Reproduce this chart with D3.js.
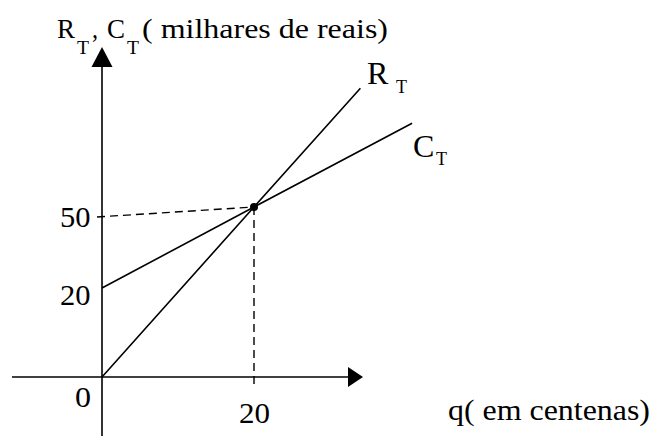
<!DOCTYPE html>
<html>
<head>
<meta charset="utf-8">
<script src="https://d3js.org/d3.v7.min.js"></script>
<style>
 body { margin: 0; background: #fff; }
 svg text { font-family: 'Liberation Serif', 'Times New Roman', Times, serif; fill: #000; }
 .line { fill: none; stroke: #000; stroke-width: 1.6; }
 .dash { fill: none; stroke: #000; stroke-width: 1.4; stroke-dasharray: 8,5; }
</style>
</head>
<body>
<script>
// schematic break-even chart (q in centenas, R/C in milhares de reais)
var revenue = [[0, 0], [20, 50], [34, 94]];
var cost = [[0, 20], [20, 50], [40.8, 81]];
var breakEven = [20, 50];
var yTicks = [50, 20];
var xTicks = [20];

var w = 669, h = 436;
var svg = d3.select("body").append("svg")
  .attr("width", w).attr("height", h);

// the drawing is not to scale, so the y scale is piecewise
var x = d3.scaleLinear().domain([0, 20]).range([102, 254]);
var y = d3.scaleLinear().domain([0, 20, 50]).range([377, 288, 207]);

var line = d3.line()
  .x(function(d) { return x(d[0]); })
  .y(function(d) { return y(d[1]); });

// axes with arrow heads
var x0 = x(0), y0 = y(0);
svg.append("line").attr("class", "line")
  .attr("x1", 12).attr("y1", y0).attr("x2", 350).attr("y2", y0);
svg.append("path")
  .attr("d", "M348," + (y0 - 10) + "L363," + y0 + "L348," + (y0 + 10) + "Z");
svg.append("line").attr("class", "line")
  .attr("x1", x0).attr("y1", 436).attr("x2", x0).attr("y2", 65);
svg.append("path")
  .attr("d", "M" + (x0 - 10.5) + ",67L" + x0 + ",47L" + (x0 + 10.5) + ",67Z");

// dashed guides to the break-even point
svg.append("line").attr("class", "dash")
  .attr("x1", x0 - 5).attr("y1", y(breakEven[1]) + 10)
  .attr("x2", x(breakEven[0])).attr("y2", y(breakEven[1]));
svg.append("line").attr("class", "dash")
  .attr("x1", x(breakEven[0])).attr("y1", y(breakEven[1]))
  .attr("x2", x(breakEven[0])).attr("y2", y0 + 8);

// R_T and C_T
svg.append("path").datum(revenue).attr("class", "line").attr("d", line);
svg.append("path").datum(cost).attr("class", "line").attr("d", line);
svg.append("circle")
  .attr("cx", x(breakEven[0])).attr("cy", y(breakEven[1])).attr("r", 4);

// text stretched horizontally like the original
function label(xp, yp, size, str, len) {
  var t = svg.append("text").attr("x", xp).attr("y", yp)
    .attr("font-size", size).text(str);
  if (len) t.attr("textLength", len).attr("lengthAdjust", "spacingAndGlyphs");
  return t;
}

// tick labels
var yOff = {50: 20, 20: 17};
yTicks.forEach(function(d) {
  label(x0 - 12 - 30, y(d) + yOff[d], 29, d, 30.5);
});
label(75, 407, 29, "0", 16);
xTicks.forEach(function(d) {
  label(x(d) - 15, 423, 30, d, 31);
});

// axis titles
label(57, 38, 27, "R", 18);
label(77, 54, 18, "T", 12);
label(92, 38, 27, ",", 6);
label(107, 38, 27, "C", 18);
label(127, 54, 18, "T", 12);
label(142, 38, 28, "( milhares de reais)", 246);

label(448, 420, 29, "q( em centenas)", 202);

// line labels
label(367, 84, 32, "R");
label(396, 93, 18, "T");
label(413, 157, 32, "C");
label(436, 165, 18, "T");
</script>
</body>
</html>
